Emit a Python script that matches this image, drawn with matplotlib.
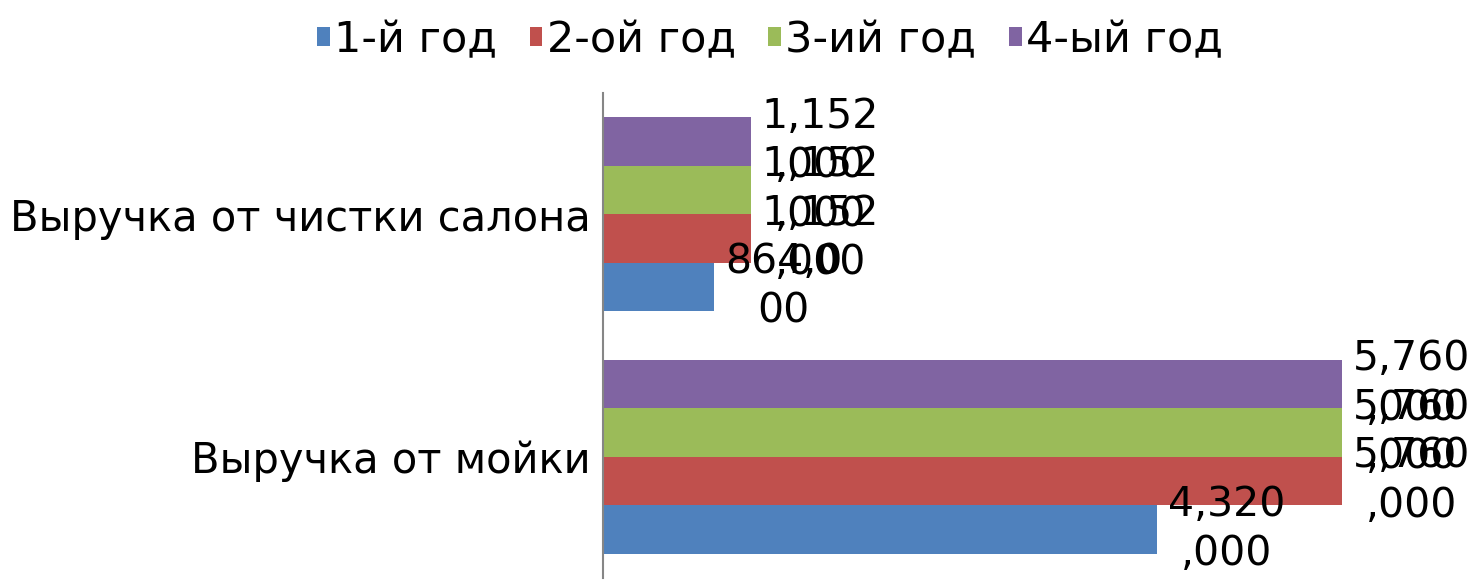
import matplotlib
matplotlib.use("Agg")
import matplotlib.pyplot as plt
import numpy as np

categories = ["Выручка от мойки", "Выручка от чистки салона"]
series_names = ["1-й год", "2-ой год", "3-ий год", "4-ый год"]
year1 = [4320000, 864000]
year2 = [5760000, 1152000]
year3 = [5760000, 1152000]
year4 = [5760000, 1152000]
series_values = [year1, year2, year3, year4]
colors = ["#4F81BD", "#C0504D", "#9BBB59", "#8064A2"]

plt.rcParams['font.family'] = ['DejaVu Sans']

fig = plt.figure(figsize=(14.75, 5.8), dpi=100)
ax = fig.add_axes([603/1475, 1-578/580, (1460-603)/1475, (578-93)/580])

y = np.arange(len(categories))
h = 0.2
n = len(series_names)
for i, (name, vals, c) in enumerate(zip(series_names, series_values, colors)):
    off = (i - (n-1)/2) * h
    ax.barh(y + off, vals, height=h, color=c, label=name)
    for yi, v in zip(y, vals):
        s = f"{v:,}"
        txt = s[:5] + "\n" + s[5:]
        ax.annotate(txt, xy=(v, yi + off), xytext=(8, 0), textcoords="offset points",
                    ha="left", va="center", multialignment="center",
                    fontsize=29.5, linespacing=1.3, clip_on=False, annotation_clip=False)

ax.set_ylim(-0.5, 1.5)
ax.set_xlim(0, 5760000 * (1460-603) / 739)
ax.set_yticks(y)
ax.set_yticklabels(categories, fontsize=30)
ax.tick_params(axis='y', length=0, pad=9)
ax.set_xticks([])
for s in ["top", "right", "bottom"]:
    ax.spines[s].set_visible(False)
ax.spines["left"].set_color("#868686")
ax.spines["left"].set_linewidth(1.5)

fig.legend(loc="center", bbox_to_anchor=(770/1475, 1-40/580), ncol=4, frameon=False,
           fontsize=31, handlelength=0.3, handleheight=0.3, handletextpad=0.1,
           columnspacing=0.75, borderpad=0)

fig.savefig("out.png", dpi=100)
